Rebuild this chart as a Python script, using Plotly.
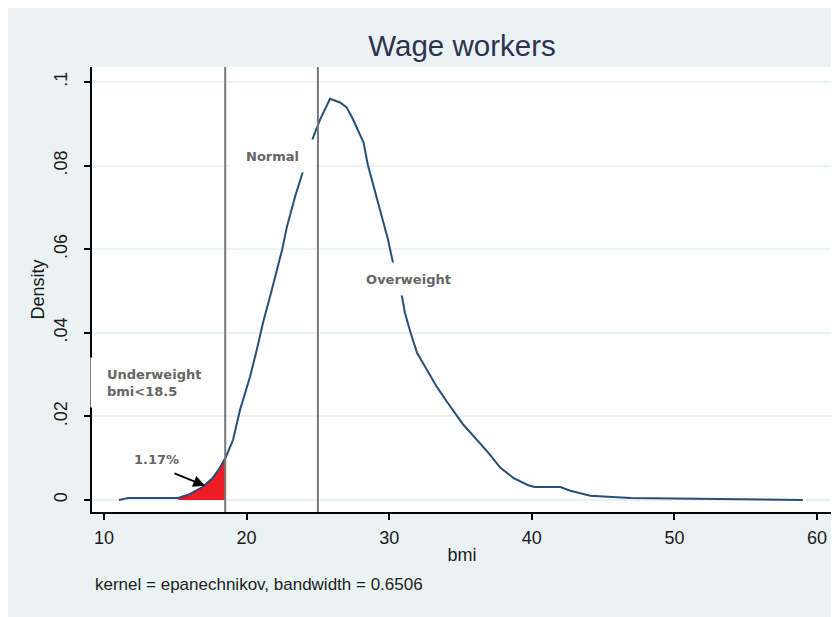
import numpy as np
import plotly.graph_objects as go

# Kernel density of BMI
bmi = [11.05, 11.7, 13.0, 15.2, 16.0, 16.9, 17.6, 18.1, 18.55, 19.05, 19.54, 20.24,
       20.72, 21.15, 21.64, 22.13, 22.5, 22.83, 23.4, 23.95, 24.3, 24.66, 25.15, 25.85,
       26.55, 27.0, 27.4, 27.8, 28.2, 28.5, 28.9, 29.2, 29.6, 29.9, 30.2, 30.5, 30.9,
       31.1, 31.5, 31.95, 32.65, 33.35, 34.05, 34.96, 35.2, 36.9, 37.8, 38.7, 39.7,
       40.2, 42.0, 42.7, 44.1, 46.9, 52.8, 59.0]
density = [0.0, 0.0005, 0.0005, 0.0005, 0.0014, 0.0031, 0.0052, 0.0076, 0.0103,
           0.0144, 0.0216, 0.0295, 0.036, 0.0424, 0.0486, 0.0551, 0.060, 0.0654,
           0.0726, 0.0786, 0.0825, 0.0867, 0.091, 0.096, 0.0951, 0.094, 0.0915, 0.0886,
           0.0855, 0.0802, 0.075, 0.071, 0.0665, 0.0625, 0.0578, 0.053, 0.0486, 0.0448,
           0.040, 0.0352, 0.0311, 0.027, 0.0235, 0.0192, 0.018, 0.0115, 0.0077, 0.0053,
           0.0036, 0.0031, 0.0031, 0.0022, 0.001, 0.0005, 0.0002, 0.0]

cutoffs = [18.5, 25]
shade_start = 15.2
shade_end = 18.5

x_ticks = [10, 20, 30, 40, 50, 60]
x_tick_labels = ["10", "20", "30", "40", "50", "60"]
y_ticks = [0, 0.02, 0.04, 0.06, 0.08, 0.1]
y_tick_labels = ["0", ".02", ".04", ".06", ".08", ".1"]

title_text = "Wage workers"
note_text = "kernel = epanechnikov, bandwidth = 0.6506"
share_text = "1.17%"

bx = np.array(bmi)
dy = np.array(density)
mask = (bx >= shade_start) & (bx < shade_end)
sx = np.concatenate([bx[mask], [shade_end]])
sy = np.concatenate([dy[mask], [np.interp(shade_end, bx, dy)]])

fig = go.Figure()
fig.add_trace(go.Scatter(x=sx, y=sy, mode="lines", fill="tozeroy",
                         fillcolor="#ed1c24", line=dict(color="#ed1c24", width=0.5),
                         hoverinfo="skip", showlegend=False))
fig.add_trace(go.Scatter(x=bmi, y=density, mode="lines",
                         line=dict(color="#24507a", width=2),
                         showlegend=False))

for c in cutoffs:
    fig.add_vline(x=c, line=dict(color="#777777", width=2), layer="above")

lab_font = dict(family="DejaVu Sans", size=13, color="#666666")
fig.add_annotation(x=21.82, y=0.0824, text="<b>Normal</b>", showarrow=False,
                   font=lab_font, bgcolor="white", width=85, height=32, borderpad=0)
fig.add_annotation(x=31.35, y=0.0529, text="<b>Overweight</b>", showarrow=False,
                   font=lab_font, bgcolor="white", width=115, height=32, borderpad=0)
# white box behind the underweight label (it hides the axis line, as in the reference)
fig.add_annotation(x=13.47, y=0.028, text=" ", showarrow=False, font=lab_font,
                   bgcolor="white", width=124, height=49, borderpad=0)
fig.add_annotation(x=10.07, y=0.028, xanchor="left", align="left",
                   text="<b>Underweight<br>bmi&lt;18.5</b>", showarrow=False,
                   font=lab_font)
fig.add_annotation(x=13.65, y=0.0098, text="<b>" + share_text + "</b>", showarrow=False,
                   font=lab_font)
fig.add_annotation(x=17.08, y=0.0034, ax=-32, ay=-13, text="", showarrow=True,
                   arrowhead=2, arrowsize=1.3, arrowwidth=1.8, arrowcolor="black")

fig.add_annotation(xref="paper", yref="paper", x=0.0014, y=-0.164, xanchor="left",
                   yanchor="middle", text=note_text, showarrow=False,
                   font=dict(family="Arial", size=17, color="#222222"))

fig.update_layout(
    width=839, height=617,
    margin=dict(l=84, r=15, t=59, b=113),
    paper_bgcolor="#eaf2f3", plot_bgcolor="white",
    title=dict(text=title_text, x=0.5, xref="paper", y=1 - 38 / 617, yref="container",
               xanchor="center", yanchor="middle",
               font=dict(family="Arial", size=29.5, color="#2b3350")),
    xaxis=dict(range=[9.158, 61.05], tickvals=x_ticks, ticktext=x_tick_labels,
               showgrid=False, zeroline=False, showline=True, linecolor="black",
               linewidth=1.5, ticks="outside", ticklen=6, tickwidth=1.5,
               tickcolor="black", ticklabelstandoff=3,
               tickfont=dict(family="Arial", size=18, color="#1a1a1a"),
               title=dict(text="bmi", standoff=1,
                          font=dict(family="Arial", size=18, color="#1a1a1a"))),
    yaxis=dict(range=[-0.00287, 0.10359], tickvals=y_ticks, ticktext=y_tick_labels,
               showgrid=True, gridcolor="#eaf2f3", gridwidth=1.5, zeroline=False,
               showline=True, linecolor="black", linewidth=1.5, ticks="outside",
               ticklen=6, tickwidth=1.5, tickcolor="black", tickangle=-90,
               ticklabelstandoff=10,
               tickfont=dict(family="Arial", size=18, color="#1a1a1a"),
               title=dict(text="Density", standoff=2,
                          font=dict(family="Arial", size=18, color="#1a1a1a"))),
)

fig.write_html("out.html")
